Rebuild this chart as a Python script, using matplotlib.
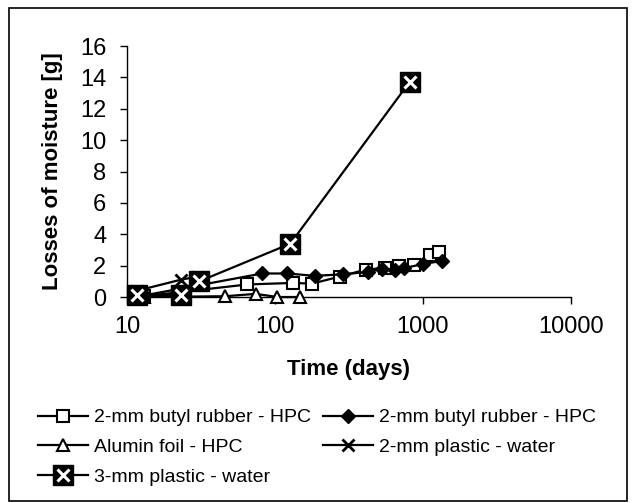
import numpy as np
import matplotlib
matplotlib.use("Agg")
import matplotlib.pyplot as plt
from matplotlib.patches import Rectangle
from matplotlib.legend_handler import HandlerTuple
from matplotlib.lines import Line2D

plt.rcParams['font.family'] = ['Liberation Sans', 'DejaVu Sans']

# losses of moisture vs time for each specimen
t_butyl1 = [13, 65, 133, 177, 274, 410, 554, 690, 870, 1115, 1280]
m_butyl1 = [0.05, 0.8, 0.9, 0.85, 1.3, 1.75, 1.85, 2.0, 2.05, 2.7, 2.85]

t_butyl2 = [13, 82, 121, 186, 290, 425, 530, 650, 750, 1000, 1340]
m_butyl2 = [0.1, 1.5, 1.5, 1.35, 1.45, 1.6, 1.8, 1.75, 1.85, 2.1, 2.3]

t_alu = [13, 46, 74, 104, 148]
m_alu = [0.0, 0.05, 0.2, 0.0, 0.0]

t_pl2 = [11.7, 23, 30]
m_pl2 = [0.4, 1.1, 1.3]

t_pl3 = [11.7, 23, 30.8, 127, 811]
m_pl3 = [0.1, 0.15, 1.0, 3.4, 13.7]

labels = ["2-mm butyl rubber - HPC", "2-mm butyl rubber - HPC",
          "Alumin foil - HPC", "2-mm plastic - water", "3-mm plastic - water"]

fig = plt.figure(figsize=(6.33, 5.03), dpi=100)
ax = fig.add_axes([0.2006, 0.4095, 0.7014, 0.499])

lw = 1.6
l1, = ax.plot(t_butyl1, m_butyl1, color='k', lw=lw, marker='s', ms=9,
              mfc='white', mec='k', mew=1.5, zorder=3, clip_on=False)
l2, = ax.plot(t_butyl2, m_butyl2, color='k', lw=lw, marker='D', ms=7,
              mfc='k', mec='k', zorder=4, clip_on=False)
l3, = ax.plot(t_alu, m_alu, color='k', lw=lw, marker='^', ms=9,
              mfc='white', mec='k', mew=1.5, zorder=3, clip_on=False)
l4, = ax.plot(t_pl2, m_pl2, color='k', lw=lw, marker='x', ms=9,
              mew=2, zorder=5, clip_on=False)
l5, = ax.plot(t_pl3, m_pl3, color='k', lw=lw, marker='s', ms=14,
              mfc='k', mec='k', zorder=6, clip_on=False)
l5x, = ax.plot(t_pl3, m_pl3, ls='none', marker='x', ms=8, mec='white',
               mew=2.2, zorder=7, clip_on=False)

ax.set_xscale('log')
ax.set_xlim(10, 10000)
ax.set_ylim(0, 16)
ax.set_yticks(np.arange(0, 17, 2))
ax.set_xticks([10, 100, 1000, 10000])
ax.set_xticklabels(['10', '100', '1000', '10000'])
ax.xaxis.set_minor_locator(matplotlib.ticker.NullLocator())
ax.tick_params(axis='both', direction='out', length=5, width=1,
               labelsize=17)
ax.tick_params(axis='y', pad=10)
ax.tick_params(axis='x', pad=9)
for s in ['top', 'right']:
    ax.spines[s].set_visible(False)
for s in ['left', 'bottom']:
    ax.spines[s].set_linewidth(1)

ax.set_xlabel("Time (days)", fontsize=16, fontweight='bold', labelpad=15)
ax.set_ylabel("Losses of moisture [g]", fontsize=16, fontweight='bold',
              labelpad=12)

# legend handle for the 3-mm series: black square with white cross
h5 = (Line2D([], [], color='k', lw=lw, marker='s', ms=14, mfc='k'),
      Line2D([], [], ls='none', marker='x', ms=8, mec='white', mew=2.2))
# column-major filling: left column first, then right column
fig.legend([l1, l3, h5, l2, l4],
           [labels[0], labels[2], labels[4], labels[1], labels[3]],
           ncol=2, frameon=False,
           loc='upper left', bbox_to_anchor=(0.032, 0.222),
           fontsize=14, handlelength=2.6, handletextpad=0.3,
           columnspacing=0.6, labelspacing=0.62,
           handler_map={tuple: HandlerTuple(ndivide=1)})

# frame round the whole figure
fig.patches.append(Rectangle((0.014, 0.004), 0.976, 0.98, transform=fig.transFigure,
                             fill=False, edgecolor='k', lw=1.2))

fig.savefig("out.png", dpi=100)
